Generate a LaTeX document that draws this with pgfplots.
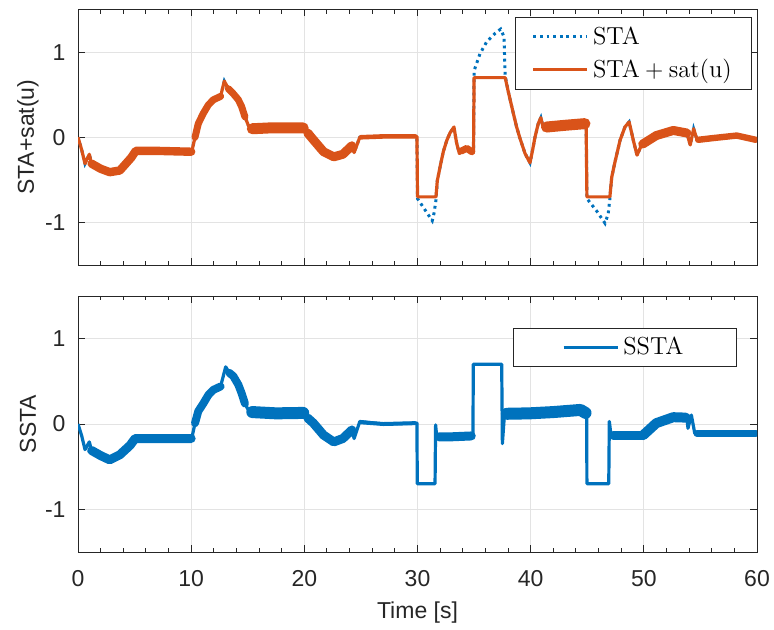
\documentclass[border=0pt]{standalone}
\usepackage{fontspec}
\setsansfont{Liberation Sans}
\usepackage{pgfplots}
\pgfplotsset{compat=1.18}

\definecolor{mOrange}{HTML}{D95319}
\definecolor{mBlue}{HTML}{0072BD}
\definecolor{axGray}{HTML}{262626}
\definecolor{gridGray}{HTML}{E3E3E3}

\pgfplotsset{
  panel/.style={
    scale only axis, width=339.5pt, height=128pt,
    xmin=0, xmax=60, ymin=-1.5, ymax=1.5,
    xtick={0,10,...,60}, ytick={-1,0,1},
    minor x tick num=4,
    tick align=inside,
    major tick length=3.4pt, minor tick length=2pt,
    grid=major,
    major grid style={gridGray, line width=0.5pt},
    axis line style={axGray, line width=0.5pt},
    every tick/.style={axGray, line width=0.5pt},
    /pgf/number format/assume math mode=true,
    tick label style={font=\sffamily\fontsize{11.5}{13}\selectfont, text=axGray},
    xticklabel style={yshift=-5.5pt},
    yticklabel style={xshift=-2.7pt},
    label style={font=\sffamily\fontsize{11.5}{13}\selectfont, text=axGray},
    ylabel style={at={(axis description cs:-0.0736,0.5)}, anchor=center},
    legend cell align=left,
    legend image code/.code={\draw[#1] (0pt,0pt) -- (27pt,0pt);},
    legend style={font=\fontsize{12.3}{14}\selectfont, draw=axGray, line width=0.5pt,
      fill=white},
  },
  band/.style={#1, line join=round, line cap=round, forget plot},
  sig/.style={#1, line width=1.6pt, line join=round},
}

\begin{document}
\begin{tikzpicture}
\path[use as bounding box] (-39pt,-38.5pt) rectangle (348pt,276pt);

% ---------- top panel: STA and STA+sat(u)
\begin{axis}[panel, at={(0,143.5pt)}, anchor=south west, height=127.75pt,
  xticklabels={}, ylabel={STA+sat(u)},
  legend style={at={(axis description cs:0.9931,0.9706)}, anchor=north east,
    inner xsep=8pt, inner ysep=2.5pt, row sep=2pt}]
\addplot[mBlue, line width=1.5pt, dash pattern=on 1.4pt off 1.9pt] coordinates {
(0,0) (0.33,-0.15) (0.62,-0.31) (1.0,-0.2) (1.2,-0.31) (2.0,-0.37) (2.8,-0.41)
(3.7,-0.39) (4.7,-0.24) (5.1,-0.16) (7,-0.16) (10.05,-0.17) (10.34,0.0)
(10.63,0.16) (11.07,0.28) (11.52,0.38) (11.96,0.44) (12.6,0.48) (12.93,0.66)
(13.28,0.57) (13.73,0.51) (14.17,0.44) (14.46,0.36) (14.75,0.24) (15.05,0.14)
(15.3,0.10) (17,0.11) (19.9,0.11) (20.8,-0.03) (21.7,-0.17) (22.6,-0.23)
(23.4,-0.2) (24.2,-0.1) (24.4,-0.18) (24.9,0.0) (27,0.01) (29.95,0.01)
(30.0,-0.72) (30.7,-0.86) (31.3,-0.98) (31.45,-0.9) (31.63,-0.74) (31.75,-0.51)
(31.99,-0.35) (32.28,-0.17) (32.58,-0.04) (32.87,0.05) (33.22,0.12)
(33.46,-0.07) (33.7,-0.19) (34.35,-0.13) (34.8,-0.17) (34.95,-0.17)
(35.0,0.78) (35.52,0.98) (36.11,1.12) (36.85,1.22) (37.35,1.27) (37.64,1.18)
(37.75,0.72) (38.03,0.53) (38.47,0.28) (38.76,0.12) (39.06,-0.015) (39.5,-0.19)
(39.94,-0.30) (40.17,-0.15) (40.38,0.0) (40.67,0.16) (40.9,0.23) (41.1,0.12)
(43,0.14) (44.9,0.16) (44.97,-0.72) (45.8,-0.86) (46.57,-1.01) (46.85,-0.9)
(47.0,-0.72) (47.16,-0.47) (47.45,-0.29) (47.9,-0.035) (48.33,0.12) (48.7,0.18)
(49.07,-0.035) (49.4,-0.21) (49.8,-0.09) (51.1,0.02) (52.6,0.08) (53.8,0.05)
(54.1,-0.09) (54.4,0.10) (54.7,-0.03) (56.1,-0.01) (58.2,0.02) (60,-0.03)
};
\addlegendentry{STA}
\addplot[sig=mOrange] coordinates {
(0,0) (0.33,-0.15) (0.62,-0.31) (1.0,-0.2) (1.2,-0.31) (2.0,-0.37) (2.8,-0.41)
(3.7,-0.39) (4.7,-0.24) (5.1,-0.16) (7,-0.16) (10.05,-0.17) (10.34,0.0)
(10.63,0.16) (11.07,0.28) (11.52,0.38) (11.96,0.44) (12.6,0.48) (12.93,0.66)
(13.28,0.57) (13.73,0.51) (14.17,0.44) (14.46,0.36) (14.75,0.24) (15.05,0.14)
(15.3,0.10) (17,0.11) (19.9,0.11) (20.8,-0.03) (21.7,-0.17) (22.6,-0.23)
(23.4,-0.2) (24.2,-0.1) (24.4,-0.18) (24.9,0.0) (27,0.01) (29.95,0.01)
(30.0,-0.70) (31.63,-0.70) (31.75,-0.51)
(31.99,-0.35) (32.28,-0.17) (32.58,-0.04) (32.87,0.05) (33.22,0.12)
(33.46,-0.07) (33.7,-0.19) (34.35,-0.13) (34.8,-0.17) (34.95,-0.17)
(35.0,0.70) (37.75,0.70) (38.03,0.53) (38.47,0.28) (38.76,0.12) (39.06,-0.015)
(39.5,-0.19) (39.94,-0.30) (40.17,-0.15) (40.38,0.0) (40.67,0.16) (40.9,0.23)
(41.1,0.12) (43,0.14) (44.9,0.16) (44.97,-0.70) (47.0,-0.70)
(47.16,-0.47) (47.45,-0.29) (47.9,-0.035) (48.33,0.12) (48.7,0.18)
(49.07,-0.035) (49.4,-0.21) (49.8,-0.09) (51.1,0.02) (52.6,0.08) (53.8,0.05)
(54.1,-0.09) (54.4,0.10) (54.7,-0.03) (56.1,-0.01) (58.2,0.02) (60,-0.03)
};
\addlegendentry{STA${}+{}$sat(u)}
% noise envelope of the measured signal
\addplot[band={mOrange, line width=4.2pt}] coordinates {
(1.2,-0.31) (2.0,-0.37) (2.8,-0.41) (3.7,-0.39) (4.7,-0.24) (5.1,-0.16) (7,-0.16) (10.0,-0.17)};
\addplot[band={mOrange, line width=3.5pt}] coordinates {
(10.34,0.0) (10.63,0.16) (11.07,0.28) (11.52,0.38) (11.96,0.44) (12.6,0.48)};
\addplot[band={mOrange, line width=3.5pt}] coordinates {
(13.28,0.57) (13.73,0.51) (14.17,0.44) (14.46,0.36) (14.75,0.24)};
\addplot[band={mOrange, line width=5.5pt}] coordinates {
(15.4,0.10) (17,0.11) (19.9,0.11)};
\addplot[band={mOrange, line width=4.5pt}] coordinates {
(20.3,0.05) (20.8,-0.03) (21.7,-0.17) (22.6,-0.23) (23.4,-0.2) (24.2,-0.1)};
\addplot[band={mOrange, line width=2.3pt}] coordinates {
(25.0,0.0) (27,0.01) (29.8,0.01)};
\addplot[band={mOrange, line width=3.5pt}] coordinates {
(33.9,-0.16) (34.35,-0.13) (34.8,-0.17)};
\addplot[band={mOrange, line width=5.5pt}] coordinates {
(41.4,0.12) (43,0.14) (44.8,0.16)};
\addplot[band={mOrange, line width=4.5pt}] coordinates {
(49.9,-0.08) (51.1,0.02) (52.6,0.08) (53.8,0.05)};
\addplot[band={mOrange, line width=3.2pt}] coordinates {
(54.8,-0.03) (56.1,-0.01) (58.2,0.02) (59.9,-0.03)};
\end{axis}

% ---------- bottom panel: SSTA
\begin{axis}[panel, at={(0,0)}, anchor=south west,
  xlabel={Time [s]}, ylabel={SSTA},
  xlabel style={at={(axis description cs:0.5,-0.238)}, anchor=center},
  legend style={at={(axis description cs:0.9705,0.876)}, anchor=north east,
    inner xsep=24.5pt, inner ysep=2.5pt}]
\addplot[sig=mBlue] coordinates {
(0,0) (0.33,-0.14) (0.62,-0.30) (1.0,-0.21) (1.2,-0.31) (2.0,-0.37) (2.8,-0.42)
(3.7,-0.36) (4.6,-0.25) (5.05,-0.17) (7.5,-0.17) (10.05,-0.17) (10.34,0.01)
(10.63,0.15) (11.07,0.24) (11.52,0.34) (11.96,0.40) (12.6,0.44) (13.05,0.67)
(13.37,0.60) (13.73,0.56) (14.17,0.46) (14.46,0.36) (14.75,0.24) (15.05,0.165)
(15.3,0.14) (17.5,0.125) (19.9,0.13) (20.8,0.01) (21.7,-0.13) (22.6,-0.21)
(23.4,-0.17) (24.2,-0.07) (24.4,-0.17) (24.9,0.03) (27,0.0) (29.95,0.01)
(29.98,-0.70) (31.55,-0.70) (31.6,-0.01) (31.7,-0.15) (33,-0.15) (34.9,-0.14)
(34.93,0.70) (37.44,0.70) (37.5,-0.23) (37.7,0.14) (39.9,0.125) (42,0.14)
(44.4,0.165) (44.95,0.13) (44.97,-0.70) (46.9,-0.70) (46.95,0.03) (47.1,-0.13)
(49.95,-0.13) (51.1,0.01) (52.6,0.08) (53.8,0.075) (53.9,-0.05) (54.2,0.105)
(54.5,-0.11) (57,-0.11) (60,-0.11)
};
\addlegendentry{SSTA}
\addplot[band={mBlue, line width=4.5pt}] coordinates {
(1.2,-0.31) (2.0,-0.37) (2.8,-0.42) (3.7,-0.36) (4.6,-0.25) (5.05,-0.17) (7.5,-0.17) (10.0,-0.17)};
\addplot[band={mBlue, line width=4pt}] coordinates {
(10.34,0.01) (10.63,0.15) (11.07,0.24) (11.52,0.34) (11.96,0.40) (12.6,0.44)};
\addplot[band={mBlue, line width=4pt}] coordinates {
(13.37,0.60) (13.73,0.56) (14.17,0.46) (14.46,0.36) (14.75,0.24)};
\addplot[band={mBlue, line width=6pt}] coordinates {
(15.4,0.14) (17.5,0.125) (19.9,0.13)};
\addplot[band={mBlue, line width=4.5pt}] coordinates {
(20.3,0.07) (20.8,0.01) (21.7,-0.13) (22.6,-0.21) (23.4,-0.17) (24.2,-0.07)};
\addplot[band={mBlue, line width=2pt}] coordinates {
(25.0,0.02) (27,0.0) (29.8,0.01)};
\addplot[band={mBlue, line width=4.5pt}] coordinates {
(31.9,-0.15) (33,-0.15) (34.75,-0.14)};
\addplot[band={mBlue, line width=6pt}] coordinates {
(37.9,0.12) (39.9,0.125) (42,0.14) (44.4,0.165) (44.85,0.13)};
\addplot[band={mBlue, line width=4.5pt}] coordinates {
(47.3,-0.13) (49.95,-0.13)};
\addplot[band={mBlue, line width=5pt}] coordinates {
(49.95,-0.13) (51.1,0.01) (52.6,0.08) (53.7,0.075)};
\addplot[band={mBlue, line width=3.6pt}] coordinates {
(54.7,-0.11) (57,-0.11) (59.9,-0.11)};
\end{axis}
\end{tikzpicture}
\end{document}
